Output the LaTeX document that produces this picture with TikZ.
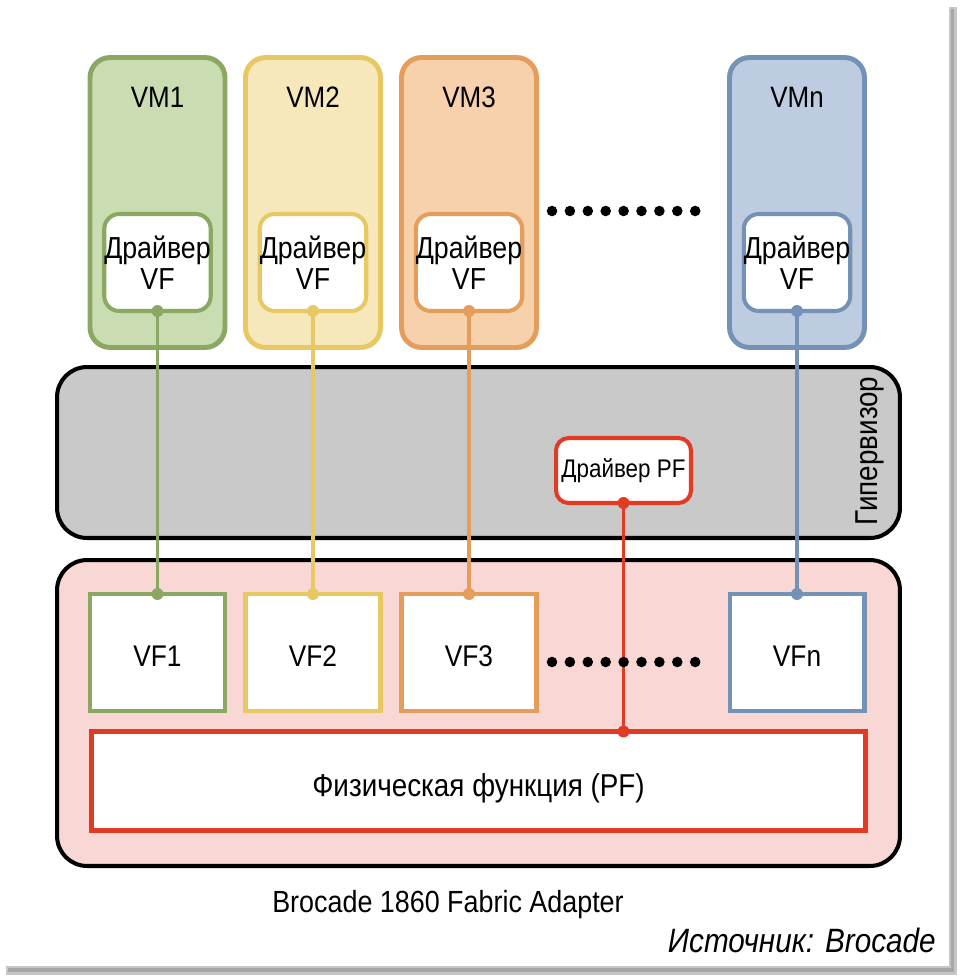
\documentclass[tikz,border=0pt]{standalone}
\usepackage{fontspec}
\setmainfont{Liberation Sans}[FakeStretch=0.88]
\usetikzlibrary{positioning,calc}

\definecolor{vmgreen}{HTML}{8AA862}
\definecolor{vmgreenfill}{HTML}{C9DCB2}
\definecolor{vmyellow}{HTML}{E7C863}
\definecolor{vmyellowfill}{HTML}{F6E8BA}
\definecolor{vmorange}{HTML}{E49D5A}
\definecolor{vmorangefill}{HTML}{F6D1AB}
\definecolor{vmblue}{HTML}{7491B6}
\definecolor{vmbluefill}{HTML}{BDCCE0}
\definecolor{hvgrey}{HTML}{C9C9C9}
\definecolor{adpink}{HTML}{F8D7D5}
\definecolor{pfred}{HTML}{E23B25}

\tikzset{
    box/.style={outer sep=0pt, inner sep=0pt, align=center},
    vmbox/.style={box, line width=2.8pt, rounded corners=0.4cm, minimum width=2.7cm, minimum height=5.8cm},
    drvbox/.style={box, fill=white, line width=2.3pt, rounded corners=0.3cm, minimum width=2.0cm, minimum height=1.94cm,
        font=\fontsize{17.3}{17.7}\selectfont},
    vfbox/.style={box, fill=white, line width=2.3pt, minimum width=2.7cm, minimum height=2.34cm},
    title/.style={font=\fontsize{16.8}{18}\selectfont},
    layer/.style={box, draw=black, line width=2.3pt, rounded corners=0.6cm, minimum width=16.86cm},
    link/.style={line width=2.2pt},
}

\begin{document}
\begin{tikzpicture}[x=0.02cm, y=-0.02cm]
% Variables: 1 := x position, 2 := ID, 3 := colour.
\def\vmcolumn(#1)#2#3{
    \begin{scope}[shift={(#1,0)}]
        \node[vmbox, draw=#3, fill=#3fill] (VM#2) at (0,202.5) {};
        \node[title] (VM#2 title) at (0,97) {VM#2};
        \node[drvbox, draw=#3] (DRV#2) at (0,262.5) {Драйвер\\VF};
        \node[vfbox, draw=#3] (VF#2) at (0,652.5) {};
        \node[font=\fontsize{17}{18}\selectfont] (VF#2 title) at (0,656) {VF#2};
        \draw[link, #3] (DRV#2.south) -- (VF#2.north);
        \fill[#3] (DRV#2.south) circle (3.4pt);
        \fill[#3] (VF#2.north) circle (3.4pt);
    \end{scope}
}
\fill[white] (0,0) rectangle (961,980);
\useasboundingbox (0,0) rectangle (961,980);
% frame shadow
\fill[gray!45] (6,966) rectangle (957,975);
\fill[gray!45] (949,7) rectangle (957,975);
\fill[gray!70] (8,968) rectangle (954,972);
\fill[gray!70] (951,9) rectangle (954,972);

\node[layer, fill=hvgrey, minimum height=3.42cm] (HV) at (478.5,452.5) {};
\node[rotate=90, font=\fontsize{18}{20}\selectfont] (HV label) at (870,451) {Гипервизор};
\node[layer, fill=adpink, minimum height=6.12cm] (ADAPTER) at (478.5,713) {};

\vmcolumn(157.5){1}{vmgreen}
\vmcolumn(313){2}{vmyellow}
\vmcolumn(469){3}{vmorange}
\vmcolumn(797){n}{vmblue}

\node[box, draw=pfred, fill=white, line width=2.8pt, minimum width=15.48cm, minimum height=1.98cm] (PF) at (478.5,781) {};
\node[font=\fontsize{18}{20}\selectfont] (PF title) at ($ (PF.center) + (0,7) $) {Физическая функция (PF)};
\node[box, draw=pfred, fill=white, line width=2.3pt, rounded corners=0.25cm, minimum width=2.7cm, minimum height=1.3cm,
    font=\fontsize{14.5}{16}\selectfont] (PFDRV) at (623.5,470.5) {Драйвер PF};
\draw[link, pfred] (PFDRV.south) -- (PFDRV.south |- PF.north) coordinate (PF link);
\fill[pfred] (PFDRV.south) circle (3.4pt);
\fill[pfred] (PF link) circle (3.4pt);

% dots between VM3 and VMn
\foreach \i in {0,...,8} {
    \fill (552+\i*17.9,211) circle (3pt);
    \fill (552+\i*17.9,662) circle (3pt);
}

\node[font=\fontsize{17.4}{19}\selectfont] (ADAPTER label) at (448,905) {Brocade 1860 Fabric Adapter};
\node[anchor=east, inner sep=0pt, font=\fontsize{19.2}{21}\selectfont\itshape] (SOURCE) at (936,940) {Источник: Brocade};
\end{tikzpicture}
\end{document}
